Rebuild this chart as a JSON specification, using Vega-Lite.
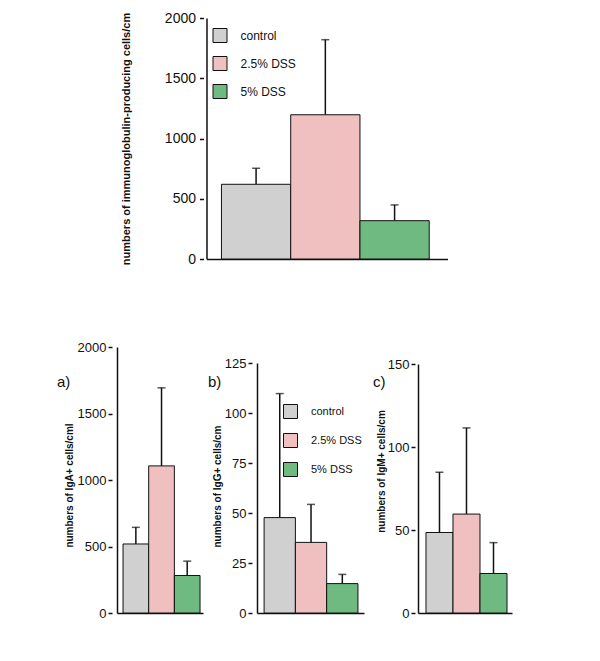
{
  "$schema": "https://vega.github.io/schema/vega-lite/v6.json",
  "padding": {"left": 57, "top": 11, "right": 5, "bottom": 5},
  "background": "white",
  "datasets": {
    "total": [
      {"group": "control", "mean": 620, "upper": 753},
      {"group": "2.5% DSS", "mean": 1197, "upper": 1820},
      {"group": "5% DSS", "mean": 318, "upper": 449}
    ],
    "iga": [
      {"group": "control", "mean": 519, "upper": 644},
      {"group": "2.5% DSS", "mean": 1106, "upper": 1693},
      {"group": "5% DSS", "mean": 282, "upper": 390}
    ],
    "igg": [
      {"group": "control", "mean": 47.7, "upper": 109.7},
      {"group": "2.5% DSS", "mean": 35.3, "upper": 54.3},
      {"group": "5% DSS", "mean": 14.7, "upper": 19.3}
    ],
    "igm": [
      {"group": "control", "mean": 48.5, "upper": 84.8},
      {"group": "2.5% DSS", "mean": 59.6, "upper": 111.5},
      {"group": "5% DSS", "mean": 23.8, "upper": 42.4}
    ]
  },
  "config": {
    "view": {"stroke": null},
    "font": "Liberation Sans",
    "axis": {
      "domainColor": "#111", "domainWidth": 1.5, "tickColor": "#111", "tickWidth": 1.5,
      "labelColor": "#111", "titleColor": "#111", "grid": false, "format": "d",
      "labelFont": "Liberation Sans", "titleFont": "Liberation Sans"
    },
    "legend": {"labelFont": "Liberation Sans", "labelColor": "#111", "padding": 0}
  },
  "spacing": 74,
  "center": true,
  "resolve": {"scale": {"fill": "independent"}, "legend": {"fill": "independent"}},
  "vconcat": [
    {
      "width": 266,
      "height": 241,
      "data": {"name": "total"},
      "encoding": {
        "x": {"field": "group", "type": "nominal", "sort": ["control", "2.5% DSS", "5% DSS"],
          "scale": {"paddingInner": 0, "paddingOuter": 0.24, "align": 0.45, "range": [25, 266]},
          "axis": {"labels": false, "ticks": false, "title": null, "domain": true}}
      },
      "layer": [
        {
          "mark": {"type": "rule", "strokeWidth": 1.5, "color": "#111"},
          "encoding": {
            "y": {"field": "mean", "type": "quantitative", "scale": {"domain": [0, 2000], "nice": false},
              "axis": {"title": "numbers of immunoglobulin-producing cells/cm", "values": [0, 500, 1000, 1500, 2000],
                "format": "d", "offset": -25, "tickSize": 7, "tickDash": [0, 3, 4, 0], "labelPadding": 4, "labelFontSize": 14,
                "titleFontSize": 11, "titleFontWeight": "bold", "titlePadding": 33}},
            "y2": {"field": "upper"}
          }
        },
        {
          "mark": {"type": "tick", "orient": "horizontal", "size": 8, "thickness": 1.5, "color": "#111"},
          "encoding": {"y": {"field": "upper", "type": "quantitative"}}
        },
        {
          "mark": {"type": "bar", "stroke": "#111", "strokeWidth": 1},
          "encoding": {
            "y": {"field": "mean", "type": "quantitative"},
            "fill": {"field": "group", "type": "nominal",
              "scale": {"domain": ["control", "2.5% DSS", "5% DSS"], "range": ["#d0d0d0", "#f0c0c0", "#6fba80"]},
              "legend": {"orient": "none", "legendX": 31, "legendY": 10, "title": null, "symbolType": "square", "symbolSize": 196,
                "symbolStrokeColor": "#111", "symbolStrokeWidth": 1, "labelFontSize": 12, "labelOffset": 13, "rowPadding": 9}}
          }
        }
      ]
    },
    {
      "spacing": 54,
      "bounds": "flush",
      "resolve": {"scale": {"fill": "independent"}, "legend": {"fill": "independent"}},
      "hconcat": [
        {
          "width": 86,
          "height": 273,
          "data": {"name": "iga"},
          "title": {"text": "a)", "anchor": "start", "frame": "group", "orient": "top", "offset": -50, "dx": -60, "fontSize": 15, "fontWeight": "normal", "color": "#111"},
          "encoding": {
            "x": {"field": "group", "type": "nominal", "sort": ["control", "2.5% DSS", "5% DSS"],
              "scale": {"paddingInner": 0, "paddingOuter": 0.175, "align": 0.67},
              "axis": {"labels": false, "ticks": false, "title": null, "domain": true}}
          },
          "layer": [
            {
              "mark": {"type": "rule", "strokeWidth": 1.5, "color": "#111"},
              "encoding": {
                "y": {"field": "mean", "type": "quantitative", "scale": {"domain": [0, 2000], "nice": false, "range": [273, 7]},
                  "axis": {"title": "numbers of IgA+ cells/cml", "values": [0, 500, 1000, 1500, 2000], "format": "d",
                    "tickSize": 9, "tickDash": [0, 5, 4, 0], "labelPadding": 2, "labelFontSize": 13,
                    "titleFontSize": 10, "titleFontWeight": "bold", "titlePadding": 3, "titleY": 145}},
                "y2": {"field": "upper"}
              }
            },
            {
              "mark": {"type": "tick", "orient": "horizontal", "size": 8, "thickness": 1.5, "color": "#111"},
              "encoding": {"y": {"field": "upper", "type": "quantitative"}}
            },
            {
              "mark": {"type": "bar", "stroke": "#111", "strokeWidth": 1},
              "encoding": {
                "y": {"field": "mean", "type": "quantitative"},
                "fill": {"field": "group", "type": "nominal",
                  "scale": {"domain": ["control", "2.5% DSS", "5% DSS"], "range": ["#d0d0d0", "#f0c0c0", "#6fba80"]},
                  "legend": null}
              }
            }
          ]
        },
        {
          "width": 107,
          "height": 273,
          "data": {"name": "igg"},
          "title": {"text": "b)", "anchor": "start", "frame": "group", "orient": "top", "offset": -50, "dx": -49, "fontSize": 15, "fontWeight": "normal", "color": "#111"},
          "encoding": {
            "x": {"field": "group", "type": "nominal", "sort": ["control", "2.5% DSS", "5% DSS"],
              "scale": {"paddingInner": 0, "paddingOuter": 0.21, "align": 0.54},
              "axis": {"labels": false, "ticks": false, "title": null, "domain": true}}
          },
          "layer": [
            {
              "mark": {"type": "rule", "strokeWidth": 1.5, "color": "#111"},
              "encoding": {
                "y": {"field": "mean", "type": "quantitative", "scale": {"domain": [0, 125], "nice": false, "range": [273, 23]},
                  "axis": {"title": "numbers of IgG+ cells/cm", "values": [0, 25, 50, 75, 100, 125], "format": "d",
                    "tickSize": 9, "tickDash": [0, 5, 4, 0], "labelPadding": 2, "labelFontSize": 13,
                    "titleFontSize": 10, "titleFontWeight": "bold", "titlePadding": 2, "titleY": 146}},
                "y2": {"field": "upper"}
              }
            },
            {
              "mark": {"type": "tick", "orient": "horizontal", "size": 8, "thickness": 1.5, "color": "#111"},
              "encoding": {"y": {"field": "upper", "type": "quantitative"}}
            },
            {
              "mark": {"type": "bar", "stroke": "#111", "strokeWidth": 1},
              "encoding": {
                "y": {"field": "mean", "type": "quantitative"},
                "fill": {"field": "group", "type": "nominal",
                  "scale": {"domain": ["control", "2.5% DSS", "5% DSS"], "range": ["#d0d0d0", "#f0c0c0", "#6fba80"]},
                  "legend": {"orient": "none", "legendX": 26, "legendY": 64, "title": null, "symbolType": "square", "symbolSize": 196,
                    "symbolStrokeColor": "#111", "symbolStrokeWidth": 1, "labelFontSize": 11, "labelOffset": 13, "rowPadding": 10}}
              }
            }
          ]
        },
        {
          "width": 94,
          "height": 273,
          "data": {"name": "igm"},
          "title": {"text": "c)", "anchor": "start", "frame": "group", "orient": "top", "offset": -50, "dx": -45, "fontSize": 15, "fontWeight": "normal", "color": "#111"},
          "encoding": {
            "x": {"field": "group", "type": "nominal", "sort": ["control", "2.5% DSS", "5% DSS"],
              "scale": {"paddingInner": 0, "paddingOuter": 0.24, "align": 0.615},
              "axis": {"labels": false, "ticks": false, "title": null, "domain": true}}
          },
          "layer": [
            {
              "mark": {"type": "rule", "strokeWidth": 1.5, "color": "#111"},
              "encoding": {
                "y": {"field": "mean", "type": "quantitative", "scale": {"domain": [0, 150], "nice": false, "range": [273, 24]},
                  "axis": {"title": "numbers of IgM+ cells/cm", "values": [0, 50, 100, 150], "format": "d",
                    "tickSize": 7, "tickDash": [0, 3, 4, 0], "labelPadding": 2, "labelFontSize": 13,
                    "titleFontSize": 10, "titleFontWeight": "bold", "titlePadding": 1, "titleY": 131}},
                "y2": {"field": "upper"}
              }
            },
            {
              "mark": {"type": "tick", "orient": "horizontal", "size": 8, "thickness": 1.5, "color": "#111"},
              "encoding": {"y": {"field": "upper", "type": "quantitative"}}
            },
            {
              "mark": {"type": "bar", "stroke": "#111", "strokeWidth": 1},
              "encoding": {
                "y": {"field": "mean", "type": "quantitative"},
                "fill": {"field": "group", "type": "nominal",
                  "scale": {"domain": ["control", "2.5% DSS", "5% DSS"], "range": ["#d0d0d0", "#f0c0c0", "#6fba80"]},
                  "legend": null}
              }
            }
          ]
        }
      ]
    }
  ]
}
